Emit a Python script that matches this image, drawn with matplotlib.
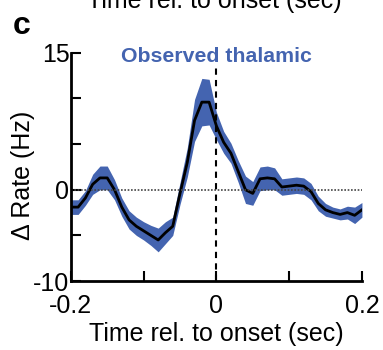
import matplotlib
matplotlib.use('Agg')
import matplotlib.pyplot as plt
import numpy as np

plt.rcParams['font.family'] = ['Liberation Sans', 'DejaVu Sans']

# time bins (sec) and mean firing-rate change (Hz) with its error band
time = np.round(np.arange(-0.20, 0.201, 0.01), 2)
rate = [-1.9, -1.9, -0.9, 0.6, 1.3, 1.3, 0.0, -1.9, -3.3, -4.0,
        -4.5, -5.0, -5.5, -4.7, -4.0, -0.4, 3.0, 7.6, 9.6, 9.6,
        7.0, 5.2, 4.0, 2.0, 0.0, -0.4, 1.2, 1.3, 1.2, 0.3,
        0.4, 0.5, 0.4, -0.2, -1.5, -2.2, -2.5, -2.7, -2.5, -2.8,
        -2.2]
sem = [0.8, 0.8, 0.8, 1.1, 1.3, 1.3, 1.1, 1.0, 1.0, 1.0,
       1.0, 1.1, 1.3, 1.2, 1.0, 1.2, 1.6, 2.3, 2.6, 2.5,
       1.5, 1.2, 1.1, 1.2, 1.5, 1.3, 1.3, 1.3, 1.2, 0.9,
       0.9, 0.9, 0.9, 0.9, 0.8, 0.7, 0.6, 0.6, 0.7, 0.9,
       0.8]

xticks = [-0.2, -0.1, 0, 0.1, 0.2]
xticklabels = ['-0.2', '', '0', '', '0.2']
yticks = [-10, -5, 0, 5, 10, 15]
yticklabels = ['-10', '', '0', '', '', '15']

blue = '#4464b0'
rate = np.array(rate)
sem = np.array(sem)

fig = plt.figure(figsize=(3.83, 3.5), dpi=100)
ax = fig.add_axes([0.185, 0.197, 0.76, 0.652])

ax.fill_between(time, rate - sem, rate + sem, color=blue, linewidth=0)
ax.plot(time, rate, color='black', linewidth=2)
# zero line and onset marker
ax.plot([-0.2, 0.2], [0, 0], color='#444444', linestyle=(0, (1, 1)), linewidth=1.2)
ax.plot([0, 0], [-10, 13.6], color='black', linestyle=(0, (3, 2.5)), linewidth=1.5,
        clip_on=False)

ax.set_xlim(-0.2, 0.2)
ax.set_ylim(-10, 15)
ax.set_xticks(xticks)
ax.set_xticklabels(xticklabels)
ax.set_yticks(yticks)
ax.set_yticklabels(yticklabels)
ax.tick_params(direction='in', length=7, width=1.5, labelsize=18)
ax.tick_params(axis='x', pad=9)
ax.tick_params(axis='y', pad=1)
for side in ['top', 'right']:
    ax.spines[side].set_visible(False)
for side in ['left', 'bottom']:
    ax.spines[side].set_linewidth(2)

ax.set_xlabel('Time rel. to onset (sec)', fontsize=18, labelpad=3)
ax.set_ylabel('\u0394 Rate (Hz)', fontsize=18)
ax.yaxis.set_label_coords(-0.124, 0.465)

ax.text(0.0, 14.6, 'Observed thalamic', color=blue, fontsize=15.3, fontweight='bold',
        ha='center', va='center')

fig.text(0.034, 0.903, 'c', fontsize=23, fontweight='bold', va='baseline')
# bottom of the previous panel's x label, cut by the figure edge
fig.text(0.559, 0.976, 'Time rel. to onset (sec)', fontsize=18, ha='center',
         va='baseline')

fig.savefig('out.png', dpi=100)
